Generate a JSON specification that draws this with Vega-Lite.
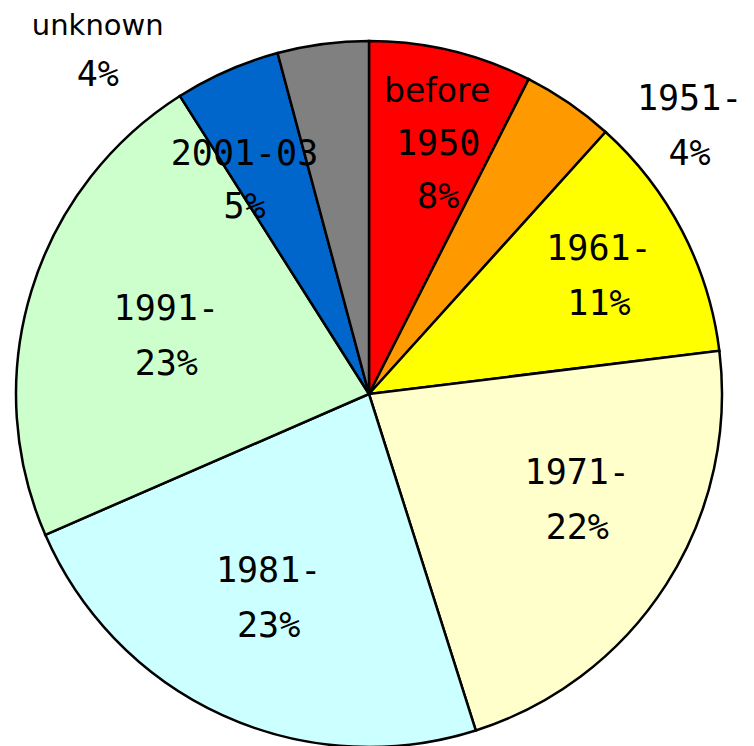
{
  "$schema": "https://vega.github.io/schema/vega-lite/v6.json",
  "autosize": "none",
  "width": 738,
  "height": 704,
  "padding": {"left": 0, "top": 42, "right": 16, "bottom": 0},
  "background": "white",
  "config": {"view": {"stroke": null}},
  "data": {"values": [
    {"i": 1, "name": "before 1950", "word": "before", "lab": "1950\n8%", "value": 7.47},
    {"i": 2, "name": "1951-", "word": "", "lab": "1951-\n4%", "value": 4.22},
    {"i": 3, "name": "1961-", "word": "", "lab": "1961-\n11%", "value": 11.36},
    {"i": 4, "name": "1971-", "word": "", "lab": "1971-\n22%", "value": 22.06},
    {"i": 5, "name": "1981-", "word": "", "lab": "1981-\n23%", "value": 23.36},
    {"i": 6, "name": "1991-", "word": "", "lab": "1991-\n23%", "value": 22.53},
    {"i": 7, "name": "2001-03", "word": "", "lab": "2001-03\n5%", "value": 4.83},
    {"i": 8, "name": "unknown", "word": "unknown", "lab": "4%", "value": 4.17}
  ]},
  "encoding": {
    "theta": {"field": "value", "type": "quantitative", "stack": true},
    "order": {"field": "i", "type": "quantitative"}
  },
  "layer": [
    {
      "mark": {"type": "arc", "radius": 353, "stroke": "black", "strokeWidth": 2.5},
      "encoding": {
        "color": {"field": "name", "type": "nominal", "legend": null,
          "scale": {"domain": ["before 1950", "1951-", "1961-", "1971-", "1981-", "1991-", "2001-03", "unknown"],
                    "range": ["#FF0000", "#FF9900", "#FFFF00", "#FFFFCC", "#CCFFFF", "#CCFFCC", "#0066CC", "#808080"]}}
      }
    },
    {
      "mark": {"type": "text", "radius": 310, "dx": -4, "dy": 0, "font": "DejaVu Sans", "fontSize": 33, "baseline": "middle", "align": "center", "color": "black"},
      "encoding": {"text": {"condition": {"test": "datum.i === 1", "field": "word"}, "value": ""}}
    },
    {
      "mark": {"type": "text", "radius": 233, "dx": 15, "dy": -23.5, "font": "DejaVu Sans Mono", "fontSize": 35, "lineHeight": 53, "lineBreak": "\n", "baseline": "middle", "align": "center", "color": "black"},
      "encoding": {"text": {"condition": {"test": "datum.i === 1", "field": "lab"}, "value": ""}}
    },
    {
      "mark": {"type": "text", "radius": 402, "dx": 93, "dy": 36.5, "font": "DejaVu Sans Mono", "fontSize": 35, "lineHeight": 55, "lineBreak": "\n", "baseline": "middle", "align": "center", "color": "black"},
      "encoding": {"text": {"condition": {"test": "datum.i === 2", "field": "lab"}, "value": ""}}
    },
    {
      "mark": {"type": "text", "radius": 258, "dx": 1, "dy": -25.5, "font": "DejaVu Sans Mono", "fontSize": 35, "lineHeight": 55, "lineBreak": "\n", "baseline": "middle", "align": "center", "color": "black"},
      "encoding": {"text": {"condition": {"test": "datum.i === 3", "field": "lab"}, "value": ""}}
    },
    {
      "mark": {"type": "text", "radius": 232, "dx": 13, "dy": -46.5, "font": "DejaVu Sans Mono", "fontSize": 35, "lineHeight": 55, "lineBreak": "\n", "baseline": "middle", "align": "center", "color": "black"},
      "encoding": {"text": {"condition": {"test": "datum.i === 4", "field": "lab"}, "value": ""}}
    },
    {
      "mark": {"type": "text", "radius": 228, "dx": -6, "dy": -30.5, "font": "DejaVu Sans Mono", "fontSize": 35, "lineHeight": 55, "lineBreak": "\n", "baseline": "middle", "align": "center", "color": "black"},
      "encoding": {"text": {"condition": {"test": "datum.i === 5", "field": "lab"}, "value": ""}}
    },
    {
      "mark": {"type": "text", "radius": 211, "dx": -1, "dy": -23.5, "font": "DejaVu Sans Mono", "fontSize": 35, "lineHeight": 55, "lineBreak": "\n", "baseline": "middle", "align": "center", "color": "black"},
      "encoding": {"text": {"condition": {"test": "datum.i === 6", "field": "lab"}, "value": ""}}
    },
    {
      "mark": {"type": "text", "radius": 245, "dx": -26, "dy": -15.5, "font": "DejaVu Sans Mono", "fontSize": 35, "lineHeight": 53, "lineBreak": "\n", "baseline": "middle", "align": "center", "color": "black"},
      "encoding": {"text": {"condition": {"test": "datum.i === 7", "field": "lab"}, "value": ""}}
    },
    {
      "mark": {"type": "text", "radius": 400, "dx": -219, "dy": 29, "font": "DejaVu Sans", "fontSize": 29, "baseline": "middle", "align": "center", "color": "black"},
      "encoding": {"text": {"condition": {"test": "datum.i === 8", "field": "word"}, "value": ""}}
    },
    {
      "mark": {"type": "text", "radius": 354, "dx": -225, "dy": 32, "font": "DejaVu Sans Mono", "fontSize": 35, "baseline": "middle", "align": "center", "color": "black"},
      "encoding": {"text": {"condition": {"test": "datum.i === 8", "field": "lab"}, "value": ""}}
    }
  ]
}
